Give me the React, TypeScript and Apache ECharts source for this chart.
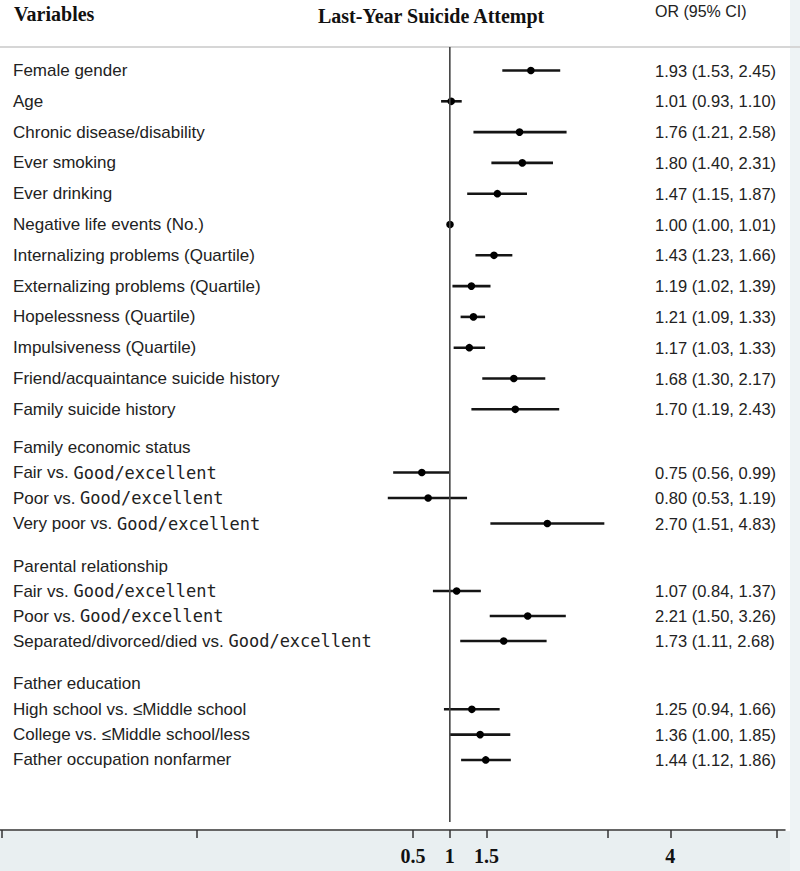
import React, { useEffect, useRef } from "react";
import * as echarts from "echarts";

const W = 800;
const H = 871;

// ---------------- data ----------------
const TOP_LABELS = [
  "Female gender",
  "Age",
  "Chronic disease/disability",
  "Ever smoking",
  "Ever drinking",
  "Negative life events (No.)",
  "Internalizing problems (Quartile)",
  "Externalizing problems (Quartile)",
  "Hopelessness (Quartile)",
  "Impulsiveness (Quartile)",
  "Friend/acquaintance suicide history",
  "Family suicide history",
];
const TOP_OR = [1.93, 1.01, 1.76, 1.8, 1.47, 1.0, 1.43, 1.19, 1.21, 1.17, 1.68, 1.7];
const TOP_LO = [1.53, 0.93, 1.21, 1.4, 1.15, 1.0, 1.23, 1.02, 1.09, 1.03, 1.3, 1.19];
const TOP_HI = [2.45, 1.1, 2.58, 2.31, 1.87, 1.01, 1.66, 1.39, 1.33, 1.33, 2.17, 2.43];

const ECON_HEADER = "Family economic status";
const ECON_LABELS = ["Fair vs. Good/excellent", "Poor vs. Good/excellent", "Very poor vs. Good/excellent"];
const ECON_OR = [0.75, 0.8, 2.7];
const ECON_LO = [0.56, 0.53, 1.51];
const ECON_HI = [0.99, 1.19, 4.83];

const PARENT_HEADER = "Parental relationship";
const PARENT_LABELS = [
  "Fair vs. Good/excellent",
  "Poor vs. Good/excellent",
  "Separated/divorced/died vs. Good/excellent",
];
const PARENT_OR = [1.07, 2.21, 1.73];
const PARENT_LO = [0.84, 1.5, 1.11];
const PARENT_HI = [1.37, 3.26, 2.68];

const FATHER_HEADER = "Father education";
const FATHER_LABELS = [
  "High school vs. \u2264Middle school",
  "College vs. \u2264Middle school/less",
  "Father occupation nonfarmer",
];
const FATHER_OR = [1.25, 1.36, 1.44];
const FATHER_LO = [0.94, 1.0, 1.12];
const FATHER_HI = [1.66, 1.85, 1.86];

const AXIS_LABEL_VALUES = [0.5, 1, 1.5, 4];
const AXIS_TICK_VALUES = [-5.1, -2.45, 0.5, 1, 1.5, 3.15, 4, 5.45];
const REF_VALUE = 1;

// ---------------- layout ----------------
const REF_X = 450;
const X_MIN = 0.25;
const X_MAX = 5;
const LABEL_X = 13;
const OR_X = 655;
const SANS = "Liberation Sans, Arial, sans-serif";
const SERIF = "Liberation Serif, Times New Roman, serif";
const MONO = "DejaVu Sans Mono, monospace";

const LAYOUTS = [
  { top: 55.1, height: 369.6, pxPerLn: 123 },
  { top: 434.25, height: 102, pxPerLn: 98 },
  { top: 553.5, height: 100, pxPerLn: 98 },
  { top: 671.3, height: 101.3, pxPerLn: 98 },
];

const SECTIONS = [
  { header: null, labels: TOP_LABELS, or: TOP_OR, lo: TOP_LO, hi: TOP_HI },
  { header: ECON_HEADER, labels: ECON_LABELS, or: ECON_OR, lo: ECON_LO, hi: ECON_HI },
  { header: PARENT_HEADER, labels: PARENT_LABELS, or: PARENT_OR, lo: PARENT_LO, hi: PARENT_HI },
  { header: FATHER_HEADER, labels: FATHER_LABELS, or: FATHER_OR, lo: FATHER_LO, hi: FATHER_HI },
];

const fmt = (o: number, l: number, h: number) =>
  `${o.toFixed(2)} (${l.toFixed(2)}, ${h.toFixed(2)})`;

function buildOption() {
  const grid: any[] = [];
  const xAxis: any[] = [];
  const yAxis: any[] = [];
  const series: any[] = [];

  SECTIONS.forEach((s, i) => {
    const lay = LAYOUTS[i];
    const L = REF_X + Math.log(X_MIN) * lay.pxPerLn;
    const R = REF_X + Math.log(X_MAX) * lay.pxPerLn;
    const offset = s.header ? 1 : 0;
    const cats = s.header ? [s.header, ...s.labels] : [...s.labels];
    const orTexts = [
      ...(s.header ? [""] : []),
      ...s.labels.map((_, j) => fmt(s.or[j], s.lo[j], s.hi[j])),
    ];
    const data = s.labels.map((_, j) => [j + offset, s.lo[j], s.hi[j], s.or[j]]);

    grid.push({ left: L, right: W - R, top: lay.top, height: lay.height });
    xAxis.push({
      type: "log",
      gridIndex: i,
      min: X_MIN,
      max: X_MAX,
      show: false,
    });
    yAxis.push({
      type: "category",
      gridIndex: i,
      data: cats,
      inverse: true,
      axisLine: { show: false },
      axisTick: { show: false },
      splitLine: { show: false },
      axisLabel: {
        align: "left",
        margin: L - LABEL_X,
        fontFamily: SANS,
        fontSize: 17,
        color: "#222",
        formatter: (v: string) => v.replace("Good/excellent", "{m|Good/excellent}"),
        rich: {
          m: { fontFamily: MONO, fontSize: 17, color: "#222" },
        },
      },
    });
    yAxis.push({
      type: "category",
      gridIndex: i,
      position: "right",
      data: cats,
      inverse: true,
      axisLine: { show: false },
      axisTick: { show: false },
      splitLine: { show: false },
      axisLabel: {
        align: "left",
        margin: OR_X - R,
        fontFamily: SANS,
        fontSize: 16.5,
        color: "#222",
        formatter: (_v: string, idx: number) => orTexts[idx],
      },
    });
    series.push({
      type: "custom",
      xAxisIndex: i,
      yAxisIndex: i * 2,
      clip: false,
      silent: true,
      encode: { x: [1, 2, 3], y: 0 },
      data,
      renderItem: (_params: any, api: any) => {
        const y = api.value(0);
        const p1 = api.coord([api.value(1), y]);
        const p2 = api.coord([api.value(2), y]);
        const pm = api.coord([api.value(3), y]);
        return {
          type: "group",
          children: [
            {
              type: "line",
              shape: { x1: p1[0], y1: p1[1], x2: p2[0], y2: p2[1] },
              style: { stroke: "#151515", lineWidth: 2.6 },
            },
            {
              type: "circle",
              shape: { cx: pm[0], cy: pm[1], r: 3.8 },
              style: { fill: "#000" },
            },
          ],
        };
      },
    });
  });

  // bottom axis + reference line
  const gi = SECTIONS.length;
  grid.push({ left: 0, right: 15, top: 47, bottom: H - 822 });
  xAxis.push({
    type: "value",
    gridIndex: gi,
    min: -5.12,
    max: 5.56,
    position: "bottom",
    offset: 8,
    axisLine: { show: true, onZero: false, lineStyle: { color: "#333", width: 1.5 } },
    axisTick: {
      show: true,
      customValues: AXIS_TICK_VALUES,
      length: 8,
      lineStyle: { color: "#333", width: 1.5 },
    },
    axisLabel: {
      customValues: AXIS_LABEL_VALUES,
      formatter: (v: number) => String(v),
      fontFamily: SERIF,
      fontWeight: "bold",
      fontSize: 20,
      color: "#111",
      margin: 16,
    },
    splitLine: { show: false },
  });
  yAxis.push({ type: "value", gridIndex: gi, min: 0, max: 1, show: false });
  series.push({
    type: "line",
    xAxisIndex: gi,
    yAxisIndex: yAxis.length - 1,
    data: [
      [REF_VALUE, 0],
      [REF_VALUE, 1],
    ],
    symbol: "none",
    silent: true,
    lineStyle: { color: "#444", width: 1.6 },
  });

  return {
    animation: false,
    backgroundColor: "#fff",
    title: [
      {
        text: "Variables",
        left: 14,
        top: 4,
        padding: 0,
        textStyle: { fontFamily: SERIF, fontWeight: "bold", fontSize: 20, color: "#111" },
      },
      {
        text: "Last-Year Suicide Attempt",
        left: 318,
        top: 6,
        padding: 0,
        textStyle: { fontFamily: SERIF, fontWeight: "bold", fontSize: 20, color: "#111" },
      },
      {
        text: "OR (95% CI)",
        left: 655,
        top: 3,
        padding: 0,
        textStyle: { fontFamily: SANS, fontWeight: "normal", fontSize: 16, color: "#222" },
      },
    ],
    graphic: [
      {
        type: "rect",
        z: -10,
        silent: true,
        shape: { x: 0, y: 831, width: W, height: H - 831 },
        style: { fill: "#e9eff1" },
      },
      {
        type: "rect",
        z: -10,
        silent: true,
        shape: { x: 790, y: 0, width: 10, height: H },
        style: { fill: "#eef3f5" },
      },
      {
        type: "line",
        z: -5,
        silent: true,
        shape: { x1: 0, y1: 47, x2: W, y2: 47 },
        style: { stroke: "#d6d6d6", lineWidth: 2 },
      },
    ],
    grid,
    xAxis,
    yAxis,
    series,
  };
}

export default function App() {
  const ref = useRef<HTMLDivElement>(null);
  useEffect(() => {
    if (!ref.current) return;
    const chart = echarts.init(ref.current, undefined, { renderer: "svg" });
    chart.setOption(buildOption() as any);
    return () => chart.dispose();
  }, []);
  return (
    <div
      ref={ref}
      style={{ position: "fixed", left: 0, top: 0, width: W, height: H, background: "#fff" }}
    />
  );
}
